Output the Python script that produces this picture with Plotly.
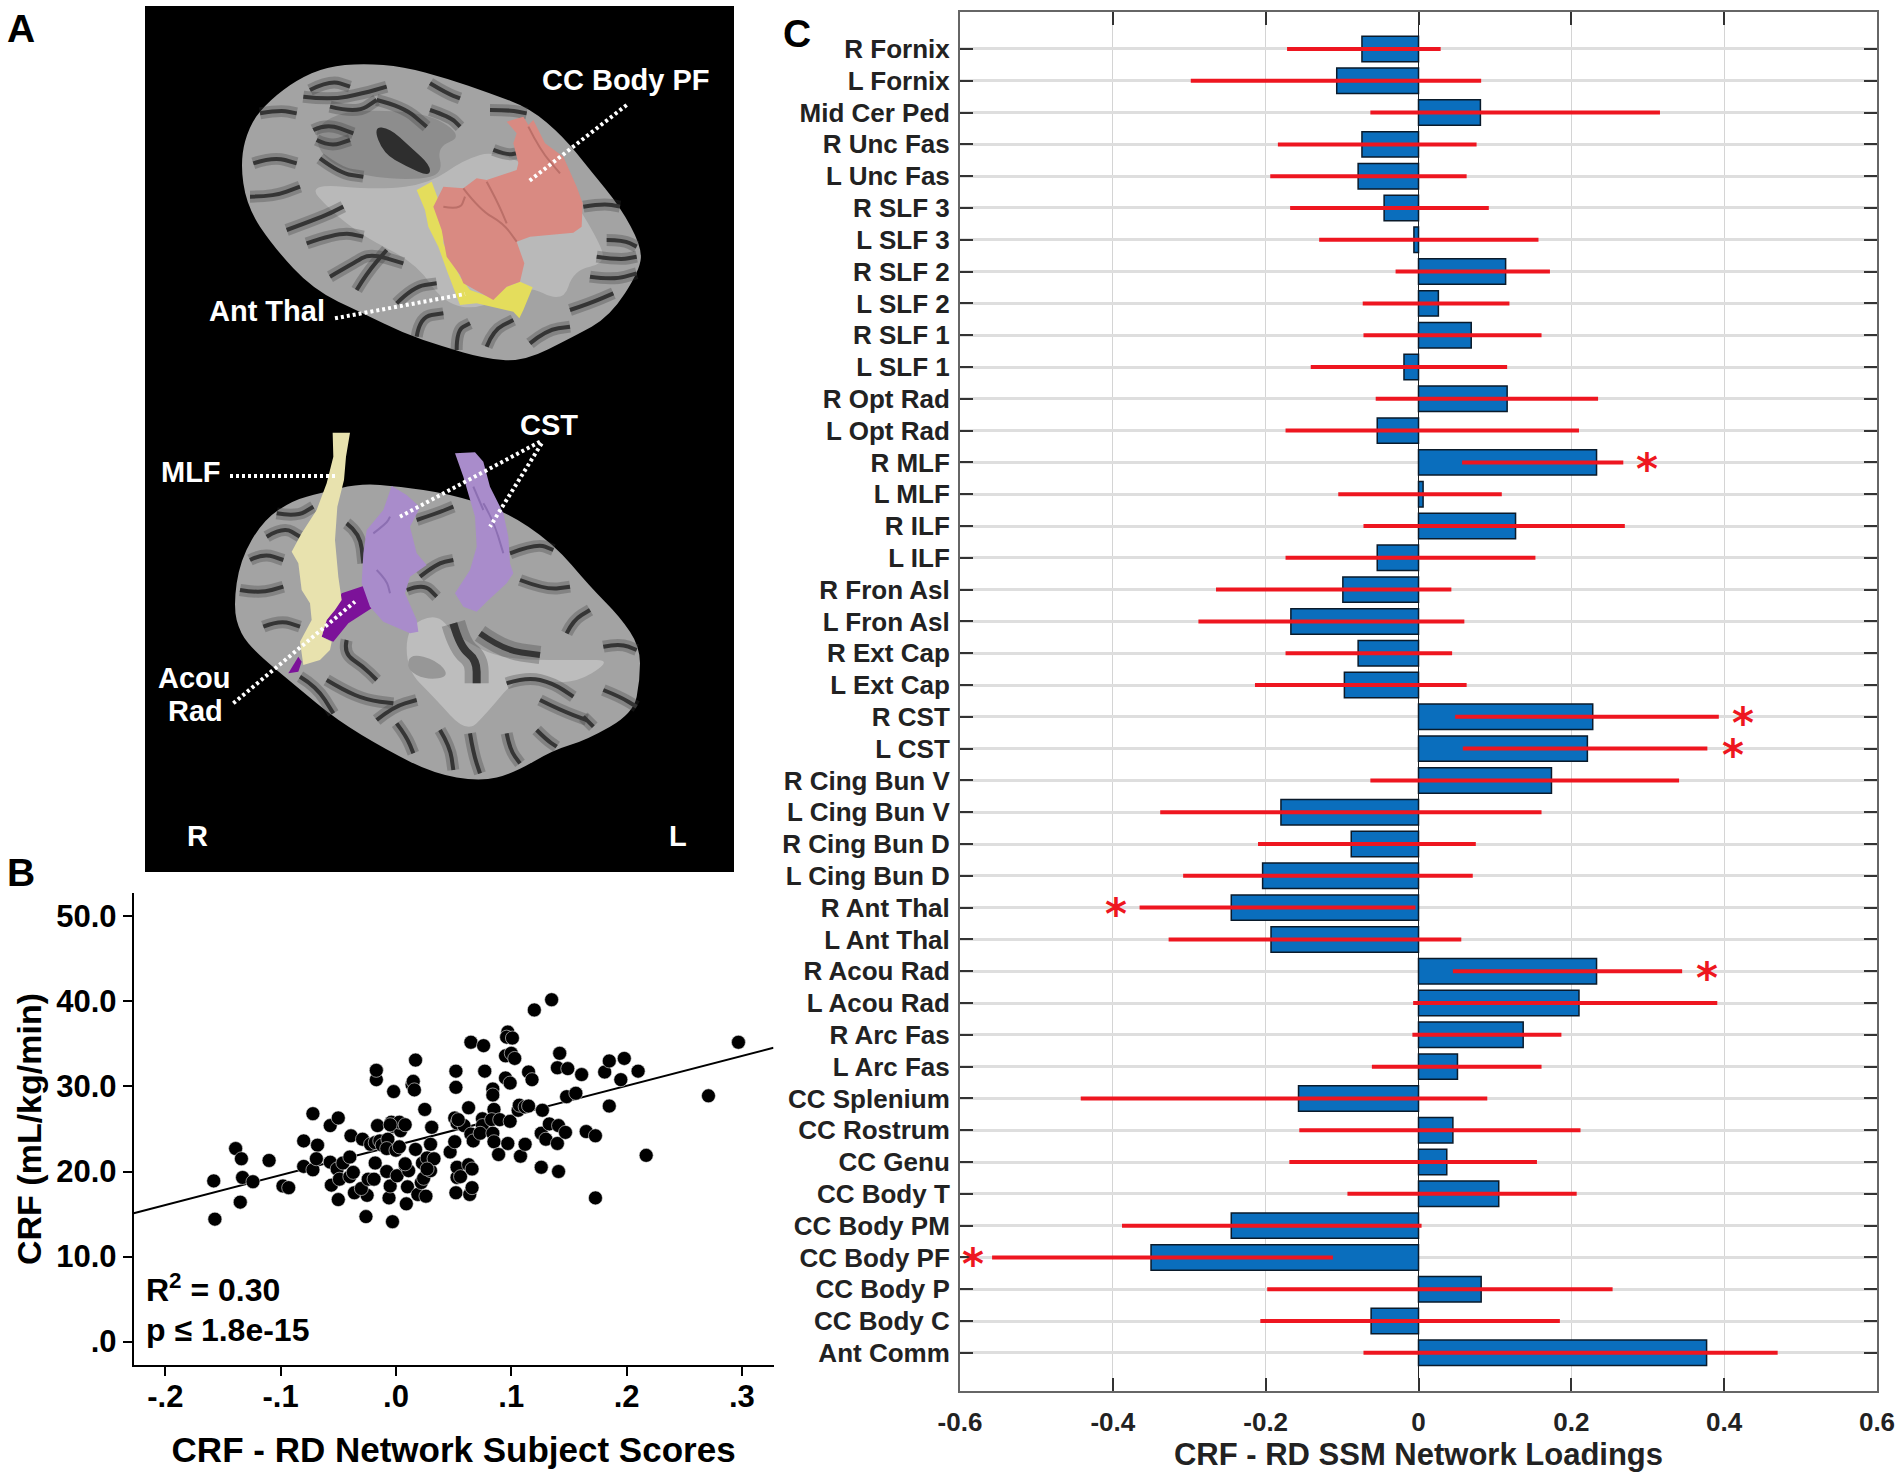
import plotly.graph_objects as go

# ---------- Panel C data ----------
tracts = ["R Fornix","L Fornix","Mid Cer Ped","R Unc Fas","L Unc Fas","R SLF 3","L SLF 3","R SLF 2","L SLF 2","R SLF 1","L SLF 1",
          "R Opt Rad","L Opt Rad","R MLF","L MLF","R ILF","L ILF","R Fron Asl","L Fron Asl","R Ext Cap","L Ext Cap","R CST","L CST",
          "R Cing Bun V","L Cing Bun V","R Cing Bun D","L Cing Bun D","R Ant Thal","L Ant Thal","R Acou Rad","L Acou Rad","R Arc Fas",
          "L Arc Fas","CC Splenium","CC Rostrum","CC Genu","CC Body T","CC Body PM","CC Body PF","CC Body P","CC Body C","Ant Comm"]
loadings = [-.074,-.107,.081,-.074,-.079,-.045,-.006,.114,.026,.069,-.019,.116,-.054,.233,.006,.127,-.054,-.099,-.167,-.079,-.097,
            .228,.221,.174,-.180,-.088,-.204,-.245,-.193,.233,.210,.137,.051,-.157,.045,.037,.105,-.245,-.350,.082,-.062,.377]
ci_low = [-.172,-.298,-.063,-.184,-.194,-.168,-.130,-.030,-.073,-.072,-.141,-.056,-.174,.057,-.105,-.072,-.174,-.265,-.288,-.174,-.214,
          .048,.058,-.063,-.338,-.210,-.308,-.365,-.327,.045,-.007,-.008,-.061,-.442,-.156,-.169,-.093,-.388,-.558,-.198,-.207,-.072]
ci_high = [.029,.082,.316,.076,.063,.092,.157,.172,.119,.161,.116,.235,.210,.268,.109,.270,.153,.043,.060,.044,.063,
           .393,.378,.341,.161,.075,.071,-.004,.056,.345,.391,.187,.161,.090,.212,.155,.207,.004,-.112,.254,.185,.470]
star_tracts = ["R MLF","R CST","L CST","R Ant Thal","R Acou Rad","CC Body PF"]
star_x = [.299,.425,.411,-.396,.378,-.583]
c_xticks = [-.6,-.4,-.2,0,.2,.4,.6]
c_xlabels = ["-0.6","-0.4","-0.2","0","0.2","0.4","0.6"]

# ---------- Panel B data ----------
scores = [-.158,-.157,-.139,-.134,-.135,-.133,-.124,-.110,-.098,-.093,-.080,-.080,-.072,-.072,-.068,-.069,-.057,-.050,-.057,-.056,
          -.050,-.051,-.049,-.046,-.040,-.037,-.039,-.040,-.036,-.029,-.026,-.025,-.030,-.024,-.019,-.018,-.022,-.017,-.017,-.016,
          -.018,-.014,-.012,-.007,-.008,-.006,-.005,-.003,-.008,-.002,-.004,-.002,0,.001,.003,.004,.003,.008,.008,.011,
          .009,.010,.014,.015,.016,.017,.017,.019,.022,.023,.026,.024,.030,.030,.027,.033,.025,.031,.047,.052,
          .052,.051,.053,.051,.052,.053,.053,.056,.059,.063,.066,.064,.066,.065,.063,.065,.067,.075,.076,.077,
          .075,.073,.084,.084,.085,.083,.084,.085,.089,.090,.095,.095,.097,.096,.101,.099,.100,.103,.099,.097,
          .108,.112,.106,.107,.112,.115,.115,.118,.120,.135,.127,.126,.126,.130,.133,.140,.141,.141,.142,.140,
          .147,.149,.148,.156,.161,.165,.173,.173,.181,.185,.185,.195,.198,.210,.217,.271,.297,.054,.008,.027,-.005]
crf = [18.9,14.4,22.7,21.5,16.4,19.3,18.8,21.3,18.3,18.1,20.6,23.6,20.2,26.8,23.1,21.5,25.4,26.3,21.1,18.4,
       16.7,20.3,19.1,21.0,19.4,19.9,24.2,21.7,17.5,23.8,14.7,17.2,18.0,19.1,19.1,21.0,23.2,30.8,31.9,25.4,
       23.4,23.6,23.1,23.8,20.0,16.9,18.3,14.1,22.7,29.4,25.8,25.3,22.5,19.5,22.9,24.8,25.8,25.5,20.7,20.1,
       16.2,18.2,30.2,30.6,29.6,33.1,22.6,17.3,18.7,21.0,17.1,19.2,20.1,23.2,21.6,21.5,27.3,25.2,22.3,31.8,
       29.9,26.3,25.7,23.5,17.5,19.3,20.5,19.4,25.4,20.8,20.3,17.3,18.1,35.2,27.5,24.4,23.6,26.2,34.8,31.8,
       25.4,24.5,29.7,29.0,27.3,26.1,24.5,23.5,22.0,26.1,31.0,33.6,36.4,35.8,35.7,30.4,33.9,33.3,25.9,23.3,
       21.8,23.2,27.2,27.8,27.6,27.7,31.7,30.8,39.0,40.2,27.2,24.5,20.5,23.8,25.6,23.3,25.4,20.0,33.9,32.2,
       24.6,32.1,28.8,29.2,31.4,24.7,24.2,16.9,31.7,33.0,27.7,30.8,33.3,31.8,21.9,28.9,35.2,26.1,20.9,20.3,25.5]
fit_x = [-.2274,.3274]
fit_y = [15.1,34.55]
b_xticks = [-.2,-.1,0,.1,.2,.3]
b_xlabels = ["-.2","-.1",".0",".1",".2",".3"]
b_yticks = [0,10,20,30,40,50]
b_ylabels = [".0","10.0","20.0","30.0","40.0","50.0"]

W, H = 1902, 1475
FONT = "Liberation Sans"
px = lambda x: x / W
py = lambda y: 1 - y / H

fig = go.Figure()
err_x, err_y = [], []
for t, lo, hi in zip(tracts, ci_low, ci_high):
    err_x += [lo, hi, None]
    err_y += [t, t, None]
fig.add_trace(go.Bar(y=tracts, x=loadings, orientation="h", width=.8, marker=dict(color="#0a6ebd", line=dict(color="#0a1a2a", width=1.5)),
                     xaxis="x2", yaxis="y2", showlegend=False))
fig.add_trace(go.Scatter(x=err_x, y=err_y, mode="lines", line=dict(color="#ee1620", width=4), xaxis="x2", yaxis="y2", showlegend=False))
fig.add_trace(go.Scatter(x=fit_x, y=fit_y, mode="lines", line=dict(color="black", width=2), showlegend=False, cliponaxis=False))
fig.add_trace(go.Scatter(x=scores, y=crf, mode="markers", marker=dict(color="black", size=14, line=dict(color="#e8e8e8", width=.6)), showlegend=False))

# ---------- Panel A illustration (picture coordinates, no data scale) ----------
TOP = (230, 50)   # origin of the upper brain sketch, sketch units are 1/3 px
LOW = (220, 420)  # origin of the lower brain sketch

def to_paper(p, o):
    return (o[0] + p[0] / 3) / W, 1 - (o[1] + p[1] / 3) / H

def smooth(points, o):
    n = len(points)
    q = [to_paper(p, o) for p in points]
    mids = [((q[i][0] + q[(i + 1) % n][0]) / 2, (q[i][1] + q[(i + 1) % n][1]) / 2) for i in range(n)]
    d = f"M {mids[-1][0]:.5f} {mids[-1][1]:.5f} "
    for i in range(n):
        d += f"Q {q[i][0]:.5f} {q[i][1]:.5f} {mids[i][0]:.5f} {mids[i][1]:.5f} "
    return d + "Z"

def poly(points, o):
    q = [to_paper(p, o) for p in points]
    return "M " + " L ".join(f"{a:.5f} {b:.5f}" for a, b in q) + " Z"

def wiggle(points, o):
    q = [to_paper(p, o) for p in points]
    d = f"M {q[0][0]:.5f} {q[0][1]:.5f} "
    for p, r in zip(q[1:-1], q[2:]):
        mx, my = (p[0] + r[0]) / 2, (p[1] + r[1]) / 2
        d += f"Q {p[0]:.5f} {p[1]:.5f} {mx:.5f} {my:.5f} "
    return d + f"L {q[-1][0]:.5f} {q[-1][1]:.5f}"

shapes = [dict(type="rect", xref="paper", yref="paper", x0=px(145), x1=px(734), y0=py(6), y1=py(872), fillcolor="black", line_width=0, layer="below")]

def blob(points, o, color, rough=False):
    shapes.append(dict(type="path", xref="paper", yref="paper", path=(poly if rough else smooth)(points, o), fillcolor=color, line_width=0))

def sulcus(points, o, width=4):
    d = wiggle(points, o)
    shapes.append(dict(type="path", xref="paper", yref="paper", path=d, line=dict(color="rgba(60,60,60,.3)", width=width * 3)))
    shapes.append(dict(type="path", xref="paper", yref="paper", path=d, line=dict(color="#353535", width=width)))

def fold(points, o, color):
    shapes.append(dict(type="path", xref="paper", yref="paper", path=wiggle(points, o), line=dict(color=color, width=2)))

# upper brain
blob([(30,330),(60,220),(120,150),(200,90),(290,50),(400,40),(520,50),(650,85),(780,130),(900,175),(1000,260),(1080,360),(1170,470),(1235,590),
      (1230,660),(1140,800),(1030,860),(880,935),(760,925),(640,890),(520,850),(400,790),(250,720),(130,590),(50,470)], TOP, "#a3a3a3")
blob([(230,400),(450,420),(600,400),(700,330),(800,300),(1000,400),(1100,560),(1130,640),(1030,660),(1000,760),(880,700),(750,780),(640,760),
      (560,640),(400,560),(300,480)], TOP, "#b9b9b9")
blob([(420,180),(600,190),(700,260),(620,290),(640,370),(560,390),(400,380),(280,330),(250,240),(320,190)], TOP, "#8d8d8d")
for s in [[(70,340),(130,320),(200,340)],[(60,440),(130,440),(210,410)],[(90,190),(150,180),(200,190)],[(170,540),(280,500),(340,470)],
          [(230,580),(330,545),(400,560)],[(300,680),(370,640),(420,610),(520,640)],[(380,720),(410,670),(470,600)],[(500,760),(550,710),(620,700)],
          [(560,860),(570,800),(640,790)],[(680,900),(680,840),(720,820)],[(770,890),(790,840),(850,810)],[(900,880),(950,840),(1020,830)],
          [(1020,780),(1080,760),(1150,730)],[(1080,680),(1150,690),(1220,670)],[(1100,620),(1170,630),(1220,620)],[(1130,570),(1180,570),(1220,590)],
          [(1060,470),(1120,460),(1170,470)],[(790,300),(830,315),(860,310)],[(780,180),(840,180),(890,190)],[(600,100),(650,130),(690,145)],
          [(240,120),(300,90),(360,110)],[(220,140),(300,150),(400,130),(470,110)],[(300,170),(380,190),(440,150)],[(250,240),(290,220),(370,250)],
          [(260,270),(300,290),(360,270)],[(270,325),(330,370),(400,380)],[(600,180),(660,200),(690,230)],[(440,150),(520,170),(590,230)]]:
    sulcus(s, TOP)
blob([(430,230),(480,235),(540,290),(600,345),(600,380),(530,350),(460,310)], TOP, "#2e2e2e")

blob([(560,420),(605,395),(640,490),(640,580),(690,680),(720,720),(790,745),(830,710),(870,695),(908,712),(880,780),(868,805),(850,785),(740,760),
      (690,765),(650,660),(625,590),(595,530),(585,480)], TOP, "#e4dd5c", rough=True)
blob([(830,215),(880,200),(895,225),(910,210),(945,280),(1000,320),(1040,410),(1058,460),(1055,530),(1030,548),(900,560),(860,575),(883,640),(870,695),
      (830,710),(790,750),(700,700),(690,675),(650,620),(635,540),(610,470),(640,410),(700,415),(740,385),(770,390),(860,360),(865,340),(850,280),(860,250)],
     TOP, "#d98a82", rough=True)
for s in [[(700,415),(750,480),(820,520),(860,575)],[(770,395),(800,450),(830,520)],[(640,470),(690,480),(705,440)],[(895,230),(930,300),(990,370)]]:
    fold(s, TOP, "#bb6f68")

# lower brain
blob([(40,560),(60,420),(130,300),(220,240),(300,220),(420,190),(540,200),(680,220),(850,270),(1000,370),(1110,500),(1200,590),(1260,680),(1260,780),
      (1240,880),(1100,960),(1000,990),(880,1060),(780,1085),(640,1060),(500,990),(350,900),(230,800),(110,700),(60,640)], LOW, "#a3a3a3")
blob([(560,620),(650,580),(700,640),(800,700),(900,720),(1080,720),(1180,720),(1050,800),(900,760),(800,880),(740,940),(640,830),(560,750)], LOW, "#bdbdbd")
blob([(570,700),(650,720),(690,770),(620,780),(560,750)], LOW, "#979797")
for s in [[(60,510),(120,520),(190,500)],[(90,420),(130,400),(190,420)],[(140,350),(190,320),(240,350)],[(130,620),(180,600),(240,620)],
          [(170,280),(230,290),(280,260)],[(380,660),(370,700),(430,740),(470,780)],[(320,780),(370,810),(440,840),(520,850)],[(240,770),(290,800),(340,880)],
          [(470,900),(520,860),(590,840)],[(860,790),(920,770),(1000,790),(1060,830)],[(960,840),(1020,870),(1100,900)],[(1150,810),(1200,830),(1250,860)],
          [(1090,890),(1120,920)],[(1040,640),(1060,600),(1110,570)],[(1150,680),(1200,670),(1250,690)],[(560,510),(610,490),(650,530)],[(600,470),(650,430),(700,420)],
          [(900,480),(980,510),(1050,500)],[(870,400),(950,370),(1000,390)],[(380,310),(420,340),(430,430)],[(590,300),(650,280),(700,260)],
          [(530,910),(560,950),(580,1000)],[(660,930),(690,980),(700,1050)],[(750,940),(760,1000),(780,1060)],[(860,940),(870,990),(900,1030)],[(950,930),(980,960),(1010,980)]]:
    sulcus(s, LOW)
sulcus([(700,610),(720,680),(770,720),(770,790)], LOW, 8)
sulcus([(780,640),(850,690),(960,705)], LOW, 6)

blob([(365,520),(430,498),(455,565),(385,610),(340,665),(305,650),(320,600),(345,565)], LOW, "#7c1299", rough=True)
blob([(338,38),(390,38),(378,110),(372,180),(352,260),(345,360),(355,470),(365,540),(345,570),(320,600),(305,650),(335,665),(330,690),(300,720),(250,735),
      (240,665),(275,600),(270,550),(245,510),(235,430),(215,395),(245,340),(290,270),(320,190),(340,110)], LOW, "#e8e2ae", rough=True)
blob([(205,760),(235,710),(245,725),(235,755)], LOW, "#7c1299", rough=True)
blob([(515,198),(560,225),(600,262),(570,320),(590,400),(620,435),(570,470),(555,520),(590,600),(595,635),(570,640),(490,605),(450,560),(425,490),(430,400),
      (440,330),(490,270)], LOW, "#a98ccb", rough=True)
blob([(705,100),(765,97),(790,125),(810,200),(850,280),(865,350),(870,430),(880,460),(860,490),(800,545),(770,575),(730,560),(705,520),(750,450),(770,380),
      (765,290),(730,170)], LOW, "#a98ccb", rough=True)
for s in [[(460,340),(500,310),(510,290)],[(470,450),(500,480),(510,520)],[(790,250),(820,300),(850,400)],[(760,200),(790,270)]]:
    fold(s, LOW, "#8c6fb2")

dots = [(TOP,(1190,165),(895,395)),(TOP,(315,805),(705,732)),(LOW,(30,168),(345,168)),(LOW,(960,65),(540,290)),(LOW,(965,70),(810,320)),(LOW,(40,850),(405,545))]
for o, a, b in dots:
    ax, ay = to_paper(a, o)
    bx, by = to_paper(b, o)
    shapes.append(dict(type="line", xref="paper", yref="paper", x0=ax, y0=ay, x1=bx, y1=by, line=dict(color="white", width=4, dash="3px,3px")))

annotations = []
def label(text, x, y, size, color="black", family=FONT, anchor="center"):
    annotations.append(dict(text=f"<b>{text}</b>", xref="paper", yref="paper", x=px(x), y=py(y), xanchor=anchor, yanchor="middle",
                            showarrow=False, font=dict(family=family, size=size, color=color)))

for text, x, y in [("CC Body PF",626,80),("Ant Thal",267,311),("MLF",191,472),("CST",549,425),("Acou",194,678),("Rad",195,711),("R",197,836),("L",678,836)]:
    label(text, x, y, 29, "white")
for text, x, y in [("A",21,28),("B",21,872),("C",797,34)]:
    label(text, x, y, 39)
label("R<sup>2</sup> = 0.30", 144, 1288, 32, anchor="left")
label("p ≤ 1.8e-15", 144, 1330, 32, anchor="left")

for t, x in zip(star_tracts, star_x):
    annotations.append(dict(text="<b>*</b>", xref="x2", yref="y2", x=x, y=t, showarrow=False, yshift=-7,
                            font=dict(family="DejaVu Sans", size=42, color="#ee1620")))

fig.update_layout(
    width=W, height=H, autosize=False, margin=dict(l=0, r=0, t=0, b=0, autoexpand=False), paper_bgcolor="white", plot_bgcolor="white",
    font=dict(family=FONT), bargap=.2, shapes=shapes, annotations=annotations, showlegend=False,
    xaxis=dict(domain=[px(133.7), px(773.5)], range=[-.2274,.3274], anchor="y", tickvals=b_xticks, ticktext=b_xlabels,
               ticks="outside", ticklen=9, tickwidth=2, tickcolor="black", showline=True, linecolor="black", linewidth=2,
               showgrid=False, zeroline=False, ticklabelstandoff=-6, tickfont=dict(size=31, color="black", weight="bold"),
               title=dict(text="<b>CRF - RD Network Subject Scores</b>", font=dict(size=35, color="black"), standoff=24)),
    yaxis=dict(domain=[py(1365), py(893)], range=[-2.75,52.75], anchor="x", tickvals=b_yticks, ticktext=b_ylabels,
               ticks="outside", ticklen=9, tickwidth=2, tickcolor="black", showline=True, linecolor="black", linewidth=2,
               showgrid=False, zeroline=False, tickfont=dict(size=31, color="black", weight="bold"),
               title=dict(text="<b>CRF (mL/kg/min)</b>", font=dict(size=34, color="black"), standoff=4)),
    xaxis2=dict(domain=[px(960), px(1877)], range=[-.6,.6], anchor="y2", tickvals=c_xticks, ticktext=c_xlabels,
                ticks="inside", ticklen=13, tickwidth=1.5, tickcolor="#333", showline=True, linecolor="#666", linewidth=2, mirror="ticks",
                showgrid=True, gridcolor="#d4d4d4", gridwidth=1, zeroline=True, zerolinecolor="#222", zerolinewidth=1,
                ticklabelstandoff=7, tickfont=dict(size=26, color="#222", weight="bold"),
                title=dict(text="<b>CRF - RD SSM Network Loadings</b>", font=dict(size=31, color="#222"), standoff=0)),
    yaxis2=dict(domain=[py(1391), py(12)], type="category", categoryorder="array", categoryarray=tracts, range=[42.2,-1.163], anchor="x2",
                tickmode="array", tickvals=tracts, ticktext=tracts, ticks="inside", ticklen=13, tickwidth=2, tickcolor="#333",
                showline=True, linecolor="#666", linewidth=2, mirror="ticks", showgrid=True, gridcolor="#dedede", gridwidth=2.5,
                zeroline=False, ticklabelstandoff=3, tickfont=dict(size=26, color="#222", weight="bold")),
)
fig.write_html("out.html", config={"displayModeBar": False}, post_script="document.body.style.margin='0';document.body.style.overflow='hidden';")
